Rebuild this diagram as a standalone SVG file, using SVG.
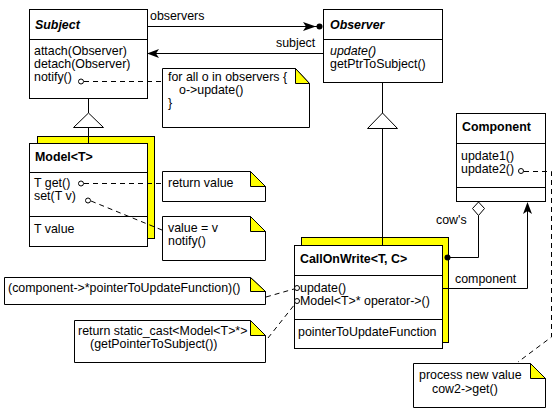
<svg xmlns="http://www.w3.org/2000/svg" width="559" height="414" viewBox="0 0 559 414">
<style>
text{font-family:"Liberation Sans",Arial,sans-serif;font-size:12.4px;fill:#000}
.t{font-weight:bold}
.ti{font-weight:bold;font-style:italic}
.it{font-style:italic}
.box{fill:#fff;stroke:#000;stroke-width:1}
.sh{fill:#ffff00;stroke:#000;stroke-width:1}
.ln{fill:none;stroke:#000;stroke-width:1}
.d{fill:none;stroke:#000;stroke-width:1;stroke-dasharray:5,4}
.ear{fill:#ffff00;stroke:#000;stroke-width:1}
.c{fill:#fff;stroke:#000;stroke-width:1}
.tri{fill:#fff;stroke:#000;stroke-width:1}
</style>
<rect width="559" height="414" fill="#fff"/>

<g id="Subject">
  <rect class="box" x="29.5" y="9.5" width="118" height="89"/>
  <line class="ln" x1="29.5" y1="39.5" x2="147.5" y2="39.5"/>
  <text class="ti" x="35" y="29">Subject</text>
  <text x="34" y="55">attach(Observer)</text>
  <text x="34" y="68">detach(Observer)</text>
  <text x="34" y="81">notify()</text>
</g>

<g id="Observer">
  <rect class="box" x="323.5" y="9.5" width="119" height="73"/>
  <line class="ln" x1="323.5" y1="39.5" x2="442.5" y2="39.5"/>
  <text class="ti" x="330" y="29">Observer</text>
  <text class="it" x="330" y="55">update()</text>
  <text x="330" y="68">getPtrToSubject()</text>
</g>

<g id="note-notify">
  <polygon class="box" points="162.5,68.5 295.5,68.5 309.5,83.5 309.5,127.5 162.5,127.5"/>
  <polygon class="ear" points="295.5,68.5 295.5,83.5 309.5,83.5"/>
  <text x="168" y="81">for all o in observers {</text>
  <text x="179" y="94">o-&gt;update()</text>
  <text x="168" y="107">}</text>
</g>

<g id="Model">
  <rect class="sh" x="37.5" y="136.5" width="117" height="102"/>
  <rect class="box" x="29.5" y="143.5" width="118" height="103"/>
  <line class="ln" x1="29.5" y1="172.5" x2="147.5" y2="172.5"/>
  <line class="ln" x1="29.5" y1="216.5" x2="147.5" y2="216.5"/>
  <text class="t" x="35" y="161">Model&lt;T&gt;</text>
  <text x="34" y="187">T get()</text>
  <text x="34" y="200">set(T v)</text>
  <text x="34" y="233">T value</text>
</g>

<g id="note-return-value">
  <polygon class="box" points="162.5,171.5 250.5,171.5 265.5,186.5 265.5,201.5 162.5,201.5"/>
  <polygon class="ear" points="250.5,171.5 250.5,186.5 265.5,186.5"/>
  <text x="168" y="187">return value</text>
</g>

<g id="note-set">
  <polygon class="box" points="162.5,216.5 250.5,216.5 265.5,231.5 265.5,260.5 162.5,260.5"/>
  <polygon class="ear" points="250.5,216.5 250.5,231.5 265.5,231.5"/>
  <text x="168" y="232">value = v</text>
  <text x="168" y="245">notify()</text>
</g>

<g id="Component">
  <rect class="box" x="456.5" y="113.5" width="89" height="88"/>
  <line class="ln" x1="456.5" y1="143.5" x2="545.5" y2="143.5"/>
  <line class="ln" x1="456.5" y1="187.5" x2="545.5" y2="187.5"/>
  <text class="t" x="462" y="131">Component</text>
  <text x="461" y="160">update1()</text>
  <text x="461" y="173">update2()</text>
</g>

<g id="CallOnWrite">
  <rect class="sh" x="301.5" y="237.5" width="147" height="105"/>
  <rect class="box" x="294.5" y="245.5" width="148" height="103"/>
  <line class="ln" x1="294.5" y1="275.5" x2="442.5" y2="275.5"/>
  <line class="ln" x1="294.5" y1="319.5" x2="442.5" y2="319.5"/>
  <text class="t" x="300" y="263">CallOnWrite&lt;T, C&gt;</text>
  <text x="300" y="292">update()</text>
  <text x="300" y="305">Model&lt;T&gt;* operator-&gt;()</text>
  <text x="298" y="336">pointerToUpdateFunction</text>
</g>

<g id="note-update">
  <polygon class="box" points="4.5,277.5 250.5,277.5 265.5,291.5 265.5,304.5 4.5,304.5"/>
  <polygon class="ear" points="250.5,277.5 250.5,291.5 265.5,291.5"/>
  <text x="8" y="292">(component-&gt;*pointerToUpdateFunction)()</text>
</g>

<g id="note-cast">
  <polygon class="box" points="74.5,320.5 250.5,320.5 265.5,335.5 265.5,362.5 74.5,362.5"/>
  <polygon class="ear" points="250.5,320.5 250.5,335.5 265.5,335.5"/>
  <text x="78" y="335">return static_cast&lt;Model&lt;T&gt;*&gt;</text>
  <text x="90" y="348">(getPointerToSubject())</text>
</g>

<g id="note-process">
  <polygon class="box" points="413.5,363.5 530.5,363.5 545.5,378.5 545.5,407.5 413.5,407.5"/>
  <polygon class="ear" points="530.5,363.5 530.5,378.5 545.5,378.5"/>
  <text x="419" y="379">process new value</text>
  <text x="432" y="393">cow2-&gt;get()</text>
</g>

<g id="connectors">
  <!-- observers association -->
  <line class="ln" x1="147.5" y1="26.5" x2="320" y2="26.5"/>
  <polygon points="303,22 316,26.5 303,31 306,26.5" fill="#000"/>
  <circle cx="319.5" cy="26.5" r="3" fill="#000"/>
  <text x="150" y="20">observers</text>
  <!-- subject association -->
  <line class="ln" x1="150" y1="53.5" x2="323" y2="53.5"/>
  <polygon points="147,53.5 159,49 156,53.5 159,58" fill="#000"/>
  <text x="276" y="47">subject</text>
  <!-- Subject -> Model inheritance -->
  <line class="ln" x1="88.5" y1="98" x2="88.5" y2="113"/>
  <polygon class="tri" points="88.5,113 103.5,127.5 73.5,127.5"/>
  <line class="ln" x1="88.5" y1="127.5" x2="88.5" y2="143"/>
  <!-- Observer -> CallOnWrite inheritance -->
  <line class="ln" x1="382.5" y1="82" x2="382.5" y2="113"/>
  <polygon class="tri" points="382.5,113 397.5,128.5 367.5,128.5"/>
  <line class="ln" x1="382.5" y1="128.5" x2="382.5" y2="245"/>
  <!-- cow's aggregation -->
  <polygon class="c" points="478.5,202 484.5,208.5 478.5,215.5 472.5,208.5"/>
  <polyline class="ln" points="478.5,215.5 478.5,257.5 448,257.5"/>
  <circle cx="447.5" cy="257.5" r="3" fill="#000"/>
  <text x="436" y="224">cow's</text>
  <!-- component association -->
  <polyline class="ln" points="442,288.5 527.5,288.5 527.5,208"/>
  <polygon points="527.5,202 523,214 527.5,211 532,214" fill="#000"/>
  <text x="455" y="283">component</text>
  <!-- note links -->
  <line class="d" x1="84" y1="81.5" x2="162" y2="81.5"/>
  <circle class="c" cx="81" cy="81.5" r="2.5"/>
  <line class="d" x1="84" y1="183.5" x2="162" y2="183.5"/>
  <circle class="c" cx="81" cy="183.5" r="2.5"/>
  <line class="d" x1="91" y1="201" x2="162" y2="230"/>
  <circle class="c" cx="88" cy="200.5" r="2.5"/>
  <line class="d" x1="266" y1="297" x2="294" y2="289"/>
  <circle class="c" cx="297" cy="288" r="2.5"/>
  <line class="d" x1="268" y1="338" x2="295" y2="304"/>
  <circle class="c" cx="297" cy="301" r="2.5"/>
  <polyline class="d" points="524,171.5 551.5,171.5 551.5,337 518,362"/>
  <circle class="c" cx="521" cy="171" r="2.5"/>
</g>
</svg>
